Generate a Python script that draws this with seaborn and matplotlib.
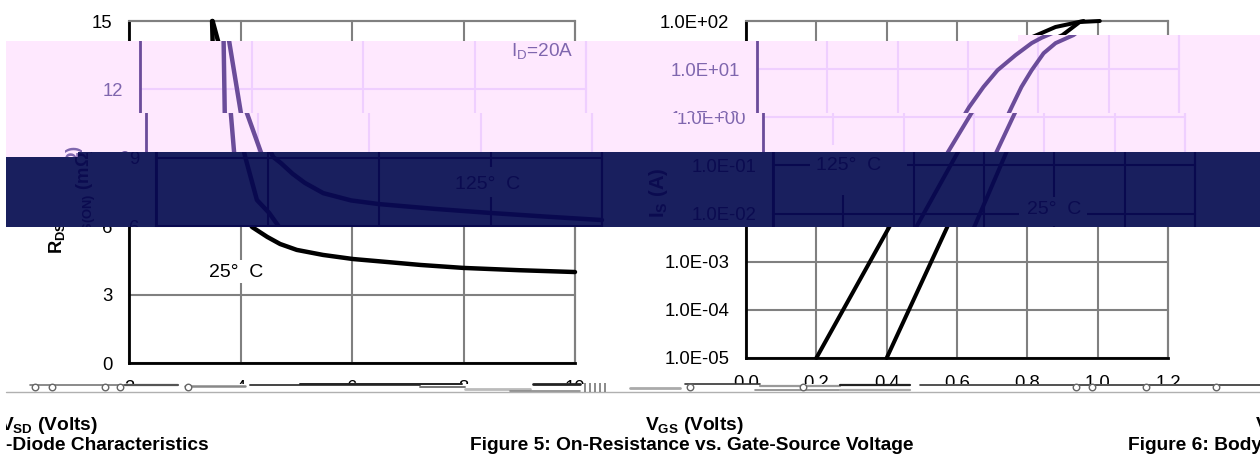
import matplotlib
matplotlib.use("Agg")
import matplotlib.pyplot as plt
import numpy as np
import pandas as pd
import seaborn as sns
from matplotlib.lines import Line2D
from matplotlib.patches import Rectangle
from matplotlib.transforms import Bbox

# Figure 5 values
vgs_25 = [3.49, 3.50, 3.52, 3.58, 3.60, 3.81, 4.03, 4.21, 4.48, 4.71, 5.01, 5.48, 6.02, 6.63, 7.23, 8.0, 9.0, 10.0]
rds_25 = [15.0, 14.1, 11.0, 9.25, 9.04, 7.15, 6.58, 5.96, 5.53, 5.22, 4.96, 4.74, 4.56, 4.43, 4.30, 4.17, 4.07, 3.99]
vgs_125 = [3.50, 3.60, 3.81, 4.06, 4.10, 4.24, 4.45, 4.67, 5.0, 5.5, 6.0, 7.0, 8.0, 9.0, 10.0]
rds_125 = [15.0, 14.1, 10.96, 9.25, 9.04, 8.77, 8.3, 7.90, 7.45, 7.13, 6.97, 6.76, 6.58, 6.42, 6.27]
vgs_ticks = [2, 4, 6, 8, 10]
rds_ticks = [0, 3, 6, 9, 12, 15]

# Figure 6 values
vsd_25 = [0.40, 0.572, 0.664, 0.724, 0.752, 0.781, 0.815, 0.849, 0.90, 0.949, 1.006]
is_25 = [1e-5, 5.2e-3, 1.9e-1, 1.62, 4.27, 9.5, 21.4, 34.7, 51, 95.5, 100]
vsd_125 = [0.20, 0.407, 0.526, 0.603, 0.644, 0.684, 0.735, 0.781, 0.809, 0.88, 0.96]
is_125 = [1e-5, 5.2e-3, 1.9e-1, 1.62, 4.27, 9.5, 19.5, 34.7, 44.7, 75, 100]
vsd_ticks = [0.0, 0.2, 0.4, 0.6, 0.8, 1.0, 1.2]
is_ticks = [1e-5, 1e-4, 1e-3, 1e-2, 1e-1, 1e0, 1e1, 1e2]
is_labels = ["1.0E-05", "1.0E-04", "1.0E-03", "1.0E-02", "1.0E-01", "1.0E+00", "1.0E+01", "1.0E+02"]

W, H = 1260, 454

plain = dict(bg="white", ink="black", text="black", grid="#808080", edge="#808080")
pink = dict(bg="#FEE8FE", ink="#6B4C9A", text="#7F66AE", grid="#EFCFFF", edge="#EFCFFF")
dark = dict(bg="#191F5E", ink="#09094F", text="#0B0B50", grid="#09094F", edge="#09094F")

# the picture is cut in strips that slide sideways: x0, y0, x1, y1, shift, colours
strips = [
    (0, 0, 1260, 35, 0, plain),
    (0, 35, 1018, 41, 0, plain),
    (1018, 35, 1260, 41, 11, pink),
    (6, 41, 1260, 113, 11, pink),
    (6, 113, 1260, 152, 17, pink),
    (6, 152, 78, 157, 17, pink),
    (78, 152, 1260, 157, 27, dark),
    (6, 157, 1260, 227, 27, dark),
    (0, 227, 1260, 384, 0, plain),
]

# broken rows under the axes: x0, x1, y, colour, width
noise = [
    (6, 1260, 392, "#B0B0B0", 1.0), (30, 125, 385, "#777777", 1.2), (125, 178, 385, "#555555", 1.6),
    (185, 245, 386, "#888888", 1.8), (250, 420, 385, "#444444", 1.4), (300, 462, 384, "#222222", 1.4),
    (420, 465, 387, "#777777", 1.4), (465, 530, 389, "#BBBBBB", 2.0), (533, 580, 384, "#222222", 2.0),
    (510, 580, 391, "#888888", 1.2), (630, 680, 388, "#AAAAAA", 2.0), (685, 760, 384, "#333333", 1.2),
    (760, 840, 386, "#999999", 1.6), (755, 840, 390, "#888888", 1.2), (840, 910, 385, "#222222", 1.6),
    (840, 910, 390, "#AAAAAA", 1.6), (920, 1260, 385, "#333333", 1.2),
]
rings_x = [35, 52, 105, 120, 188, 690, 803, 1076, 1092, 1146, 1216]
hatch_x = [585, 590, 595, 600, 605]


def base_style(ax, pal, x_ticks, x_labels, y_ticks, y_labels):
    ax.set_xticks(x_ticks, x_labels)
    ax.set_yticks(y_ticks, y_labels)
    ax.minorticks_off()
    ax.patch.set_visible(False)
    ax.grid(True, color=pal["grid"], lw=1.5)
    ax.set_axisbelow(True)
    ax.tick_params(length=0, pad=12, labelsize=13.3, labelcolor=pal["text"])
    for side, col in zip(["left", "bottom", "top", "right"], [pal["ink"], pal["ink"], pal["edge"], pal["edge"]]):
        ax.spines[side].set_color(col)
        ax.spines[side].set_linewidth(2.0 if side in ("left", "bottom") else 1.5)
        ax.spines[side].set_visible(True)
    ax.set_xlabel("")


def mask(ax, pal, x0, x1, y0, y1):
    # the label boxes hide the grid behind them
    ax.add_patch(Rectangle((x0, y0), x1 - x0, y1 - y0, facecolor=pal["bg"], edgecolor="none", zorder=2))


def draw_fig5(ax, pal):
    for x, y in [(vgs_25, rds_25), (vgs_125, rds_125)]:
        sns.lineplot(data=pd.DataFrame({"x": x, "y": y}), x="x", y="y", ax=ax, color=pal["ink"],
                     lw=3.2, sort=False, estimator=None, legend=False, zorder=3)
    ax.set_xlim(2, 10)
    ax.set_ylim(0, 15)
    base_style(ax, pal, vgs_ticks, [str(v) for v in vgs_ticks], rds_ticks, [str(v) for v in rds_ticks])
    ax.set_ylabel(r"$\mathbf{R_{DS(ON)}\ (m\Omega)}$", fontsize=13.2, color=pal["text"])
    ax.yaxis.set_label_coords(-0.13, 0.477)
    mask(ax, pal, 7.38, 8.53, 7.28, 8.6)
    mask(ax, pal, 3.35, 4.5, 3.51, 4.52)
    ax.text(8.53, 7.85, "125°  C", ha="right", va="center", fontsize=14, color=pal["text"], zorder=4)
    ax.text(4.40, 3.96, "25°  C", ha="right", va="center", fontsize=14, color=pal["text"], zorder=4)
    ax.text(9.77, 13.68, "I$_{\\mathrm{D}}$=20A", ha="right", va="center", fontsize=13.7, color=pal["text"], zorder=4)


def draw_fig6(ax, pal):
    for x, y in [(vsd_25, is_25), (vsd_125, is_125)]:
        sns.lineplot(data=pd.DataFrame({"x": x, "y": y}), x="x", y="y", ax=ax, color=pal["ink"],
                     lw=2.9, sort=False, estimator=None, legend=False, zorder=3)
    ax.set_yscale("log")
    ax.set_xlim(0, 1.2)
    ax.set_ylim(1e-5, 1e2)
    base_style(ax, pal, vsd_ticks, [f"{v:.1f}" for v in vsd_ticks], is_ticks, is_labels)
    ax.set_ylabel(r"$\mathbf{I_S\ (A)}$", fontsize=14.5, color=pal["text"])
    ax.yaxis.set_label_coords(-0.244, 0.49)
    mask(ax, pal, 0.105, 0.381, 10 ** -1.617, 10 ** -0.578)
    mask(ax, pal, 0.70, 0.893, 10 ** -2.26, 10 ** -1.66)
    ax.text(0.122, 1e-1, "125°  C", ha="left", va="center", fontsize=14, color=pal["text"], zorder=4)
    ax.text(0.722, 1.2e-2, "25°  C", ha="left", va="center", fontsize=14, color=pal["text"], zorder=4)


plt.rcParams["font.family"] = ["Liberation Sans", "DejaVu Sans"]
sns.set_style("white")
plt.rcParams["font.family"] = ["Liberation Sans", "DejaVu Sans"]
plt.rcParams["mathtext.fontset"] = "custom"
plt.rcParams["mathtext.rm"] = "Liberation Sans"
plt.rcParams["mathtext.bf"] = "Liberation Sans:bold"
plt.rcParams["mathtext.it"] = "Liberation Sans:italic"

fig = plt.figure(figsize=(W / 100, H / 100), dpi=100, facecolor="white")

# pixel layer behind everything, for the strip backgrounds
back = fig.add_axes([0, 0, 1, 1], zorder=-1)
back.set_xlim(0, W)
back.set_ylim(H, 0)
back.axis("off")
for x0, y0, x1, y1, dx, pal in strips:
    back.add_patch(Rectangle((x0, y0), x1 - x0, y1 - y0, facecolor=pal["bg"], edgecolor="none"))

# one copy of both charts per strip, shifted and clipped to it
for x0, y0, x1, y1, dx, pal in strips:
    clip = Bbox([[x0, H - y1], [x1, H - y0]])
    a1 = fig.add_axes([(129 + dx) / W, 1 - 363 / H, 446 / W, 342 / H])
    a2 = fig.add_axes([(746 + dx) / W, 1 - 358 / H, 422 / W, 337 / H])
    draw_fig5(a1, pal)
    draw_fig6(a2, pal)
    for ax in (a1, a2):
        for art in ax.findobj():
            if art is not ax:
                art.set_clip_box(clip)
                art.set_clip_on(True)

# top layer in pixels: broken rows and captions
front = fig.add_axes([0, 0, 1, 1], zorder=5)
front.set_xlim(0, W)
front.set_ylim(H, 0)
front.axis("off")
for x0, x1, y, col, lw in noise:
    front.add_line(Line2D([x0, x1], [y, y], color=col, lw=lw))
front.scatter(rings_x, [387] * len(rings_x), s=22, facecolor="white", edgecolor="#666666", linewidth=1.0, zorder=3)
front.vlines(hatch_x, 383, 392, color="#777777", lw=1.2)

cap = dict(fontsize=13.75, fontweight="bold", color="black", va="center")
vsd = front.text(98, 425, r"V$_{\mathbf{SD}}$ (Volts)", ha="right", **cap)
vsd.set_clip_box(Bbox([[6, 0], [W, H]]))
vsd.set_clip_on(True)
front.text(645, 425, r"V$_{\mathbf{GS}}$ (Volts)", ha="left", **cap)
front.text(1256, 425, "V", ha="left", **cap)
front.text(6, 445, "-Diode Characteristics", ha="left", **cap)
front.text(470, 445, "Figure 5: On-Resistance vs. Gate-Source Voltage", ha="left", **cap)
front.text(1128, 445, "Figure 6: Body", ha="left", **cap)

fig.savefig("out.png", dpi=100)
